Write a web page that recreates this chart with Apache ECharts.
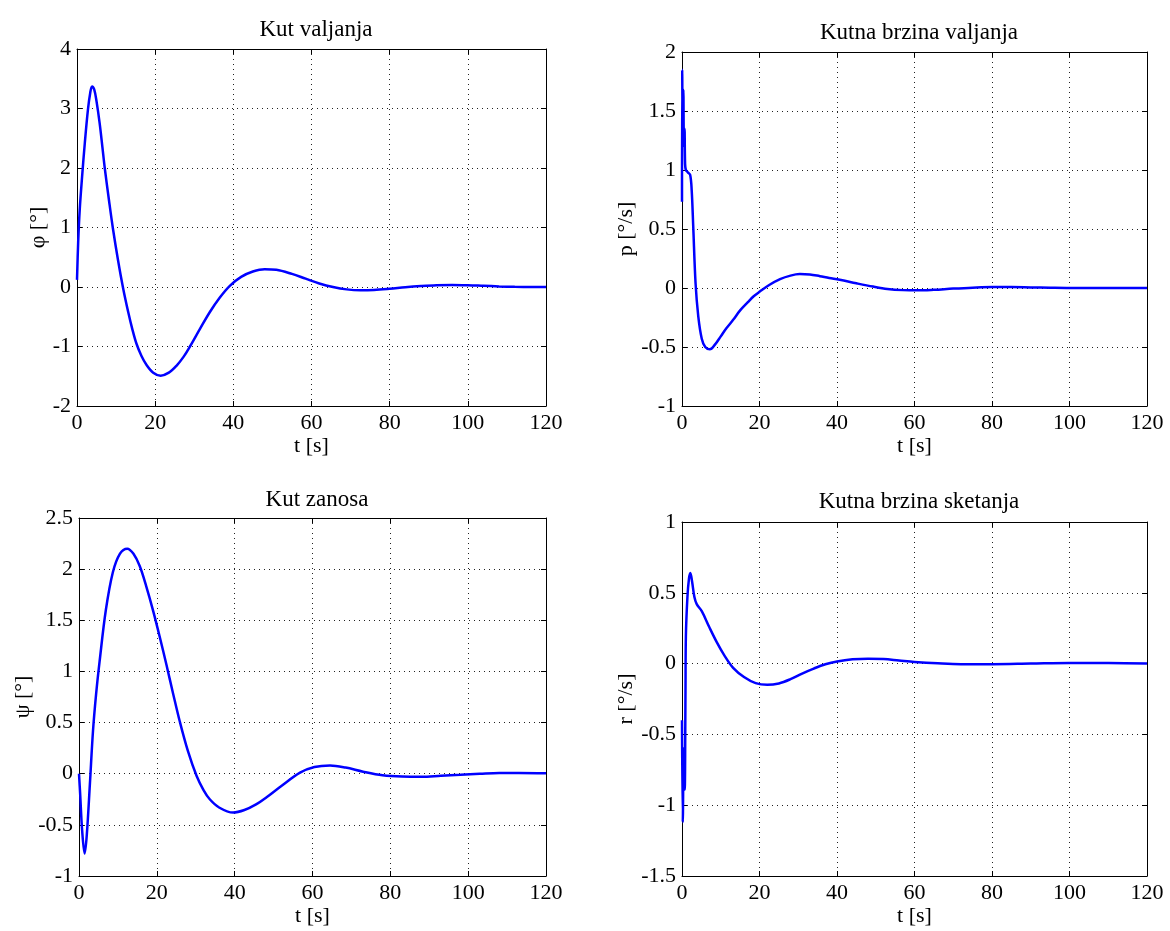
<!DOCTYPE html>
<html>
<head>
<meta charset="utf-8">
<script src="https://cdn.jsdelivr.net/npm/echarts@6/dist/echarts.min.js"></script>
<style>
    html, body { margin: 0; padding: 0; background: #fff; }
    #chart { width: 1170px; height: 931px; }
</style>
</head>
<body>
<div id="chart"></div>
<script>
// x ticks shared by all four panels
var tTicks = [0, 20, 40, 60, 80, 100, 120];

// Kut valjanja (phi)
var phiT = [0, 0.3, 0.7, 1.3, 2.0, 2.8, 3.4, 3.85, 4.4, 5.0, 5.8, 6.5, 7.1, 8.2, 9.2, 10.5, 11.8, 13.1, 14.2, 15.2, 16.5, 17.8, 19.5, 21.4, 23.5, 25.5, 27.3, 28.9, 31.5, 34, 36.5, 39.1, 42, 45, 48, 51, 55, 58.5, 62, 65.5, 69, 72.5, 76, 80, 84, 88, 92, 96, 100, 104, 108, 112, 116, 120];
var phiV = [0.12, 0.75, 1.3, 1.85, 2.42, 2.98, 3.27, 3.37, 3.32, 3.12, 2.75, 2.35, 2.0, 1.45, 0.98, 0.45, -0.02, -0.42, -0.72, -0.95, -1.16, -1.31, -1.44, -1.49, -1.44, -1.32, -1.17, -1.0, -0.7, -0.42, -0.18, 0.02, 0.17, 0.26, 0.30, 0.29, 0.22, 0.14, 0.06, 0, -0.04, -0.055, -0.05, -0.03, -0.005, 0.015, 0.03, 0.035, 0.03, 0.02, 0.01, 0.003, 0, 0];

// Kutna brzina valjanja (p)
var pT = [0, 0.05, 0.2, 0.35, 0.5, 0.65, 0.8, 1.0, 1.5, 2.1, 2.5, 2.9, 3.5, 4.2, 5.1, 6.0, 7.2, 8.5, 10, 11.5, 13.2, 15, 17, 18.5, 20.1, 22.5, 25.3, 28, 30.4, 33, 35.6, 38, 40.7, 45, 49.3, 53, 57, 61, 65, 70, 75, 80, 85, 90, 95, 100, 110, 120];
var pV = [0.73, 1.85, 1.2, 1.68, 1.2, 1.35, 1.05, 1.0, 0.98, 0.96, 0.83, 0.52, 0.04, -0.24, -0.43, -0.5, -0.52, -0.48, -0.41, -0.34, -0.27, -0.19, -0.12, -0.07, -0.03, 0.025, 0.075, 0.105, 0.118, 0.115, 0.10, 0.085, 0.07, 0.04, 0.012, -0.008, -0.018, -0.02, -0.015, -0.005, 0.003, 0.008, 0.008, 0.005, 0.002, 0, 0, 0];

// Kut zanosa (psi)
var psiT = [0, 0.3, 0.8, 1.45, 2.0, 2.8, 3.6, 4.4, 5.3, 6.9, 8.7, 10.5, 12.4, 14, 15.6, 17.3, 19, 20.8, 22.5, 24.2, 25.9, 28, 30.2, 32, 33.6, 36, 39.6, 42.5, 45.5, 48.2, 52, 56.8, 60.5, 64.5, 68.5, 73, 78, 83, 88, 93, 98, 103, 108, 113, 120];
var psiV = [0, -0.2, -0.55, -0.78, -0.6, -0.1, 0.42, 0.78, 1.1, 1.6, 1.97, 2.15, 2.2, 2.15, 2.03, 1.83, 1.6, 1.33, 1.06, 0.78, 0.51, 0.22, -0.02, -0.16, -0.25, -0.33, -0.38, -0.355, -0.3, -0.23, -0.12, 0.01, 0.065, 0.08, 0.06, 0.02, -0.015, -0.028, -0.03, -0.02, -0.01, 0, 0.008, 0.008, 0.004];

// Kutna brzina sketanja (r)
var rT = [0, 0.2, 0.45, 0.7, 0.9, 1.0, 1.4, 1.8, 2.15, 2.6, 3.2, 3.8, 5.1, 7, 9, 11, 13.2, 16, 19, 22, 25, 28, 31, 34, 37, 40, 44, 48, 52, 56, 60, 66, 72, 80, 90, 100, 110, 120];
var rV = [-0.4, -1.12, -0.6, -0.89, -0.2, 0.19, 0.47, 0.6, 0.64, 0.58, 0.47, 0.42, 0.37, 0.26, 0.15, 0.055, -0.03, -0.095, -0.138, -0.15, -0.14, -0.11, -0.07, -0.035, -0.005, 0.015, 0.03, 0.035, 0.032, 0.022, 0.012, 0.002, -0.004, -0.004, 0, 0.004, 0.004, 0];

var font = '"Liberation Serif", "Times New Roman", serif';

var panels = [
    {title: 'Kut valjanja', yName: 'φ [°]', t: phiT, v: phiV, yMin: -2, yMax: 4, yStep: 1,
        grid: {left: 77, top: 49, width: 469, height: 357}, titleTop: 13, titleX: 311, yGap: 28},
    {title: 'Kutna brzina valjanja', yName: 'p [°/s]', t: pT, v: pV, yMin: -1, yMax: 2, yStep: 0.5,
        grid: {left: 682, top: 52, width: 465, height: 354}, titleTop: 16, titleX: 914, yGap: 36},
    {title: 'Kut zanosa', yName: 'ψ [°]', t: psiT, v: psiV, yMin: -1, yMax: 2.5, yStep: 0.5,
        grid: {left: 79, top: 518, width: 467, height: 358}, titleTop: 483, titleX: 312, yGap: 30},
    {title: 'Kutna brzina sketanja', yName: 'r [°/s]', t: rT, v: rV, yMin: -1.5, yMax: 1, yStep: 0.5,
        grid: {left: 682, top: 522, width: 465, height: 354}, titleTop: 485, titleX: 914, yGap: 36}
];

var chart = echarts.init(document.getElementById('chart'));

var option = {
    backgroundColor: '#fff',
    animation: false,
    title: [],
    grid: [],
    xAxis: [],
    yAxis: [],
    series: []
};

var lineBlack = {show: true, onZero: false, lineStyle: {color: '#000', width: 1}};
var tickIn = {show: true, inside: true, length: 5, lineStyle: {color: '#000'}};
var dotted = {show: true, lineStyle: {color: '#222', width: 1, type: [1, 4]}};

panels.forEach(function (p, i) {
    option.title.push({
        text: p.title,
        left: p.titleX,
        top: p.titleTop,
        textAlign: 'center',
        textStyle: {fontFamily: font, fontSize: 23, fontWeight: 'normal', color: '#000'}
    });
    option.grid.push(p.grid);

    // bottom axis with labels + grid lines
    option.xAxis.push({
        type: 'value', gridIndex: i, position: 'bottom',
        min: tTicks[0], max: tTicks[tTicks.length - 1], interval: 20,
        name: 't [s]', nameLocation: 'middle', nameGap: 21,
        nameTextStyle: {fontFamily: font, fontSize: 22, color: '#000'},
        axisLine: lineBlack,
        axisTick: tickIn,
        axisLabel: {fontFamily: font, fontSize: 22, color: '#000', margin: 6},
        splitLine: dotted
    });
    // top box edge
    option.xAxis.push({
        type: 'value', gridIndex: i, position: 'top',
        min: tTicks[0], max: tTicks[tTicks.length - 1], interval: 20,
        axisLine: lineBlack,
        axisTick: tickIn,
        axisLabel: {show: false},
        splitLine: {show: false}
    });

    option.yAxis.push({
        type: 'value', gridIndex: i, position: 'left',
        min: p.yMin, max: p.yMax, interval: p.yStep,
        name: p.yName, nameLocation: 'middle', nameGap: p.yGap,
        nameTextStyle: {fontFamily: font, fontSize: 22, color: '#000'},
        axisLine: lineBlack,
        axisTick: tickIn,
        axisLabel: {fontFamily: font, fontSize: 22, color: '#000', margin: 6},
        splitLine: dotted
    });
    option.yAxis.push({
        type: 'value', gridIndex: i, position: 'right',
        min: p.yMin, max: p.yMax, interval: p.yStep,
        axisLine: lineBlack,
        axisTick: tickIn,
        axisLabel: {show: false},
        splitLine: {show: false}
    });

    var data = [];
    for (var k = 0; k < p.t.length; k++) {
        data.push([p.t[k], p.v[k]]);
    }
    option.series.push({
        type: 'line',
        xAxisIndex: i * 2,
        yAxisIndex: i * 2,
        data: data,
        showSymbol: false,
        smooth: 0.35,
        lineStyle: {color: '#0000ff', width: 2.5},
        z: 5
    });
});

chart.setOption(option);
</script>
</body>
</html>
